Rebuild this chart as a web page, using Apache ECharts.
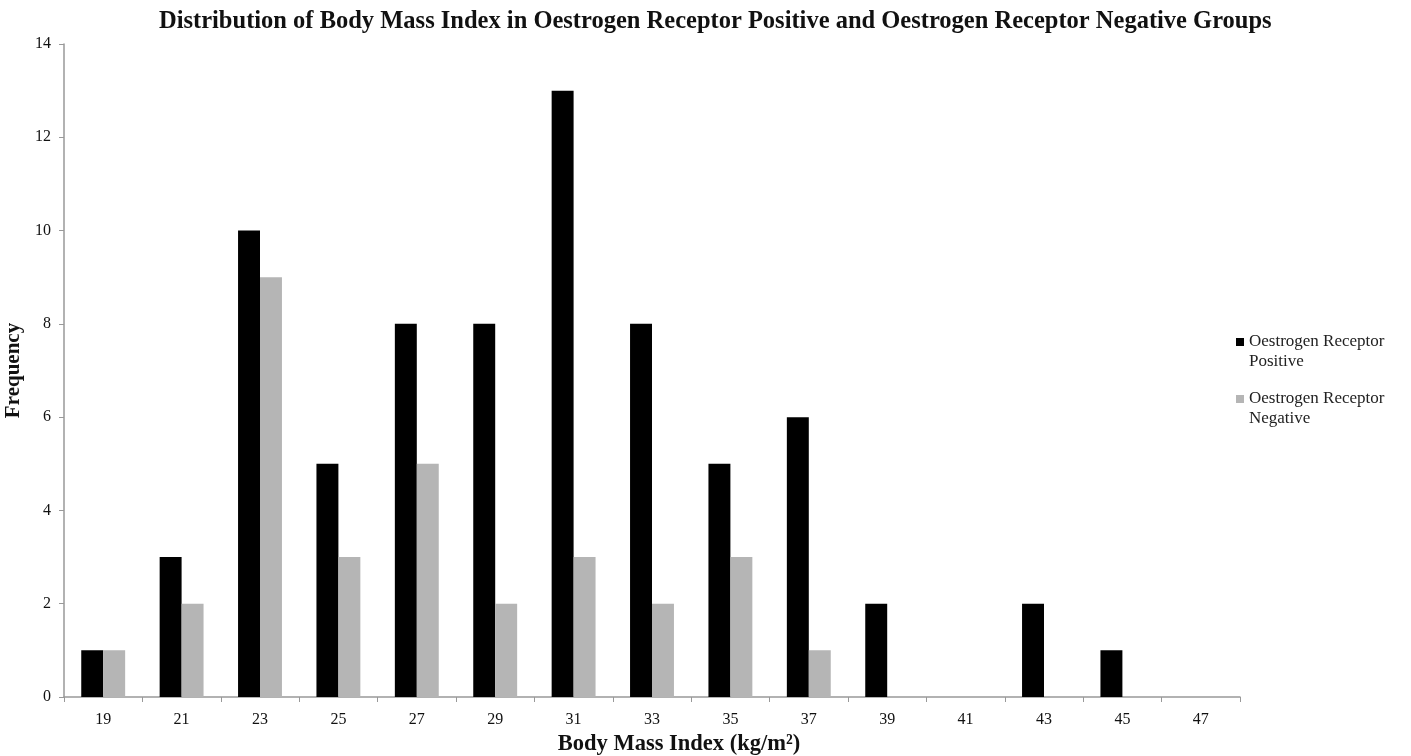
<!DOCTYPE html>
<html>
<head>
<meta charset="utf-8">
<script src="https://cdn.jsdelivr.net/npm/echarts@6/dist/echarts.min.js"></script>
<style>html,body{margin:0;padding:0;background:#fff}#c{width:1411px;height:756px}</style>
</head>
<body>
<div id="c"></div>
<script>
const categories = ['19','21','23','25','27','29','31','33','35','37','39','41','43','45','47'];
const positiveValues = [1,3,10,5,8,8,13,8,5,6,2,0,2,1,0];
const negativeValues = [1,2,9,3,5,2,3,2,3,1,0,0,0,0,0];
const seriesNames = ['Oestrogen Receptor Positive','Oestrogen Receptor Negative'];
const legendLabels = {'Oestrogen Receptor Positive':'Oestrogen Receptor\nPositive','Oestrogen Receptor Negative':'Oestrogen Receptor\nNegative'};

const font = '"Liberation Serif", "DejaVu Serif", serif';
const legendIcon = 'path://M0,0L10,0L10,10L0,10Z M0,35L0.01,35L0,35.01Z';
const chart = echarts.init(document.getElementById('c'), null, {renderer:'canvas'});
chart.setOption({
  backgroundColor:'#fff',
  animation:false,
  title:{
    text:'Distribution of Body Mass Index in Oestrogen Receptor Positive and Oestrogen Receptor Negative Groups',
    left:159, top:9, padding:0,
    textStyle:{fontFamily:font, fontWeight:'bold', fontSize:24.5, color:'#111'}
  },
  legend:{
    orient:'vertical', left:1236, top:332, padding:0,
    itemWidth:8, itemHeight:28, itemGap:17,
    formatter:n=>legendLabels[n],
    itemStyle:{borderWidth:0},
    textStyle:{fontFamily:font, fontSize:17, color:'#222', lineHeight:20},
    data:[{name:seriesNames[0], icon:legendIcon},{name:seriesNames[1], icon:legendIcon}]
  },
  grid:{left:64, right:171, top:44, bottom:59, containLabel:false, outerBoundsMode:'none'},
  xAxis:{
    type:'category', data:categories,
    name:'Body Mass Index (kg/m²)', nameLocation:'middle', nameGap:35,
    nameTextStyle:{fontFamily:font, fontWeight:'bold', fontSize:22.5, color:'#111', padding:[0,0,0,54]},
    axisLine:{lineStyle:{color:'#999', width:1.5}},
    axisTick:{show:true, alignWithLabel:false, length:5, lineStyle:{color:'#999'}},
    axisLabel:{fontFamily:font, fontSize:16, color:'#111', margin:15}
  },
  yAxis:{
    type:'value', min:0, max:14, interval:2,
    name:'Frequency', nameLocation:'middle', nameGap:37, nameRotate:90,
    nameTextStyle:{fontFamily:font, fontWeight:'bold', fontSize:21, color:'#111'},
    axisLine:{show:true, lineStyle:{color:'#999', width:1.5}},
    axisTick:{show:true, length:5, lineStyle:{color:'#999'}},
    axisLabel:{fontFamily:font, fontSize:16, color:'#111', margin:13},
    splitLine:{show:false}
  },
  series:[
    {name:seriesNames[0], type:'bar', data:positiveValues, barGap:'0%', barCategoryGap:'44%',
     itemStyle:{color:'#000', borderWidth:0}},
    {name:seriesNames[1], type:'bar', data:negativeValues,
     itemStyle:{color:'#b5b5b5', borderWidth:0}}
  ]
});
</script>
</body>
</html>
